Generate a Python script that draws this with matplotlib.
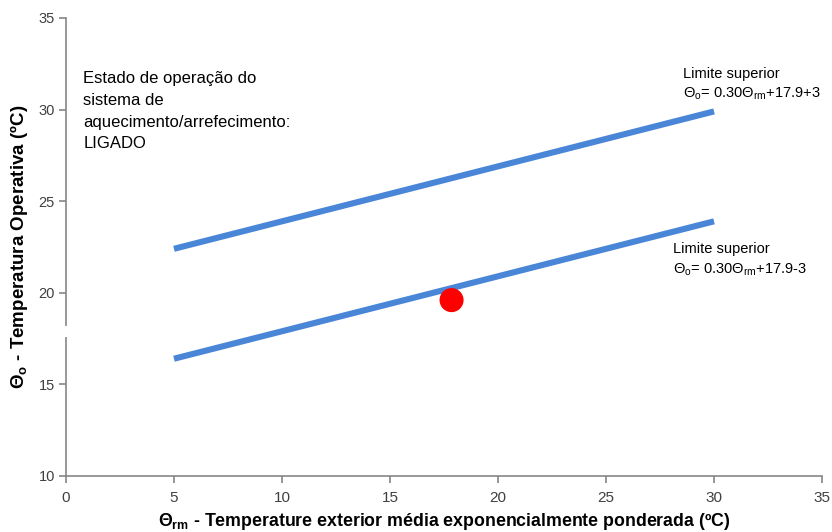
import matplotlib
matplotlib.use('Agg')
import matplotlib.pyplot as plt
from matplotlib import font_manager

# dados
x_lim = [5, 30]
declive = 0.30
ordenada = 17.9
margem = 3
ponto_x = [17.85]
ponto_y = [19.6]

x_ticks = [0, 5, 10, 15, 20, 25, 30, 35]
y_ticks = [10, 15, 20, 25, 30, 35]

sup = [declive * x + ordenada + margem for x in x_lim]
inf = [declive * x + ordenada - margem for x in x_lim]

nomes = {f.name for f in font_manager.fontManager.ttflist}
narrow = 'Liberation Sans Narrow' if 'Liberation Sans Narrow' in nomes else 'Liberation Sans'

plt.rcParams['font.family'] = ['Liberation Sans', 'DejaVu Sans']

cinza = '#868686'
azul = '#4A86D8'

fig = plt.figure(figsize=(8.32, 5.32), dpi=100)
ax = fig.add_axes([0.0793, 0.1053, 0.9087, 0.8609])

ax.plot(x_lim, sup, color=azul, lw=4.4, solid_capstyle='butt', zorder=2)
ax.plot(x_lim, inf, color=azul, lw=4.4, solid_capstyle='butt', zorder=2)
ax.scatter(ponto_x, ponto_y, s=300, color='#FF0000', edgecolors='none', zorder=3)

ax.set_xlim(0, 35)
ax.set_ylim(10, 35)
ax.set_xticks(x_ticks)
ax.set_yticks(y_ticks)

for s in ['top', 'right']:
    ax.spines[s].set_visible(False)
for s in ['left', 'bottom']:
    ax.spines[s].set_color(cinza)
    ax.spines[s].set_linewidth(1.2)
ax.tick_params(axis='both', direction='out', length=5, width=1.2, color=cinza)
ax.tick_params(axis='y', labelsize=10.5, labelcolor='#404040', pad=3)
ax.tick_params(axis='x', labelsize=11, labelcolor='#404040', pad=6)
for t in ax.get_xticklabels():
    t.set_family(narrow)

ax.set_xlabel(r'Θ$_{\mathregular{rm}}$ - Temperature exterior média exponencialmente ponderada (ºC)',
              fontsize=12.8, fontweight='bold', family=narrow, labelpad=4)
ax.set_ylabel(r'Θ$_{\mathregular{o}}$ - Temperatura Operativa (ºC)',
              fontsize=13.5, fontweight='bold', labelpad=6)

# pequeno corte no eixo vertical, como no original
ax.plot([0, 0], [17.7, 18.1], color='white', lw=3, clip_on=False, zorder=5)

ax.text(0.8, 32.1, 'Estado de operação do\nsistema de\naquecimento/arrefecimento:\nLIGADO',
        fontsize=12, va='top', ha='left', linespacing=1.56, color='black')
ax.text(28.55, 32.35, 'Limite superior\n' + r'Θ$_{\mathregular{o}}$= 0.30Θ$_{\mathregular{rm}}$+17.9+3',
        fontsize=10.5, va='top', ha='left', linespacing=1.38)
ax.text(28.1, 22.75, 'Limite superior\n' + r'Θ$_{\mathregular{o}}$= 0.30Θ$_{\mathregular{rm}}$+17.9-3',
        fontsize=10.5, va='top', ha='left', linespacing=1.38)

fig.savefig('out.png', dpi=100)
